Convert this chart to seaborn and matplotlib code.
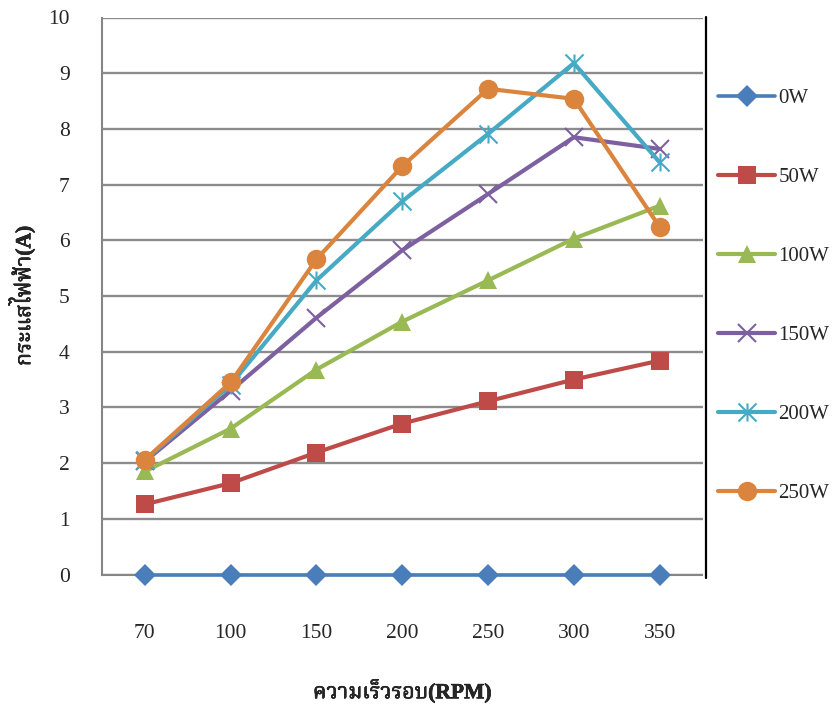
import matplotlib
matplotlib.use("Agg")
import matplotlib.pyplot as plt
from matplotlib import font_manager
from matplotlib import patheffects
from matplotlib.path import Path
from matplotlib.lines import Line2D
import numpy as np
import pandas as pd
import seaborn as sns

# ---- data -------------------------------------------------------------
speeds = ["70", "100", "150", "200", "250", "300", "350"]
series_names = ["0W", "50W", "100W", "150W", "200W", "250W"]
current_0w = [0, 0, 0, 0, 0, 0, 0]
current_50w = [1.26, 1.64, 2.19, 2.71, 3.11, 3.50, 3.84]
current_100w = [1.85, 2.62, 3.68, 4.54, 5.28, 6.03, 6.62]
current_150w = [2.03, 3.30, 4.61, 5.82, 6.83, 7.85, 7.64]
current_200w = [2.05, 3.41, 5.28, 6.70, 7.91, 9.18, 7.40]
current_250w = [2.06, 3.45, 5.66, 7.33, 8.72, 8.54, 6.24]
y_ticks = list(range(0, 11))

x_title = "ความเร็วรอบ(RPM)"
y_title = "กระแสไฟฟ้า(A)"

# ---- fonts ------------------------------------------------------------
sns.set_style("white")
serif = "Liberation Serif"


def find_thai_font():
    """Return the name of an installed font that covers Thai script."""
    try:
        from fontTools.ttLib import TTFont
    except Exception:
        return None
    found = {}
    for fe in font_manager.fontManager.ttflist:
        try:
            tt = TTFont(fe.fname, fontNumber=0, lazy=True)
            cmap = tt.getBestCmap() or {}
            if 0x0E01 in cmap and 0x0E44 in cmap:
                found.setdefault(fe.name, set()).add(fe.weight)
        except Exception:
            continue
    if not found:
        return None
    for name in ["Tahoma", "Leelawadee", "Noto Serif Thai", "Noto Sans Thai",
                 "Garuda", "Loma", "Norasi", "Kinnari", "Waree"]:
        if name in found:
            return name
    # prefer a family that ships a bold face
    for name, weights in found.items():
        if any((w if isinstance(w, int) else 400) >= 600 for w in weights):
            return name
    return next(iter(found))


thai_font = find_thai_font()
# Latin glyphs from the serif face, Thai glyphs from the Thai-capable face
title_families = [serif] + ([thai_font] if thai_font else []) + ["DejaVu Sans"]
plt.rcParams["font.family"] = [serif, "DejaVu Sans"]
bold_stroke = [patheffects.withStroke(linewidth=0.45, foreground="black")]

# asterisk marker: an X with a vertical stroke through it
ast_verts = [(0, -0.5), (0, 0.5),
             (-0.5, -0.5), (0.5, 0.5),
             (-0.5, 0.5), (0.5, -0.5)]
ast_codes = [Path.MOVETO, Path.LINETO] * 3
asterisk = Path(ast_verts, ast_codes)

styles = {
    "0W": dict(color="#4A7EBB", marker="D", ms=11.5, lw=2.6),
    "50W": dict(color="#BE4B48", marker="s", ms=13, lw=3),
    "100W": dict(color="#98B954", marker="^", ms=13.5, lw=3),
    "150W": dict(color="#7D60A0", marker="x", ms=13, lw=3, mew=1.5),
    "200W": dict(color="#46AAC5", marker=asterisk, ms=13, lw=3, mew=1.5),
    "250W": dict(color="#DB843D", marker="o", ms=14, lw=3),
}

values = [current_0w, current_50w, current_100w, current_150w,
          current_200w, current_250w]
frames = []
for name, vals in zip(series_names, values):
    frames.append(pd.DataFrame({"pos": np.arange(len(speeds)),
                                "speed": speeds,
                                "current": vals,
                                "series": name}))
df = pd.concat(frames, ignore_index=True)

FS = 15.5

# ---- figure -----------------------------------------------------------
fig = plt.figure(figsize=(8.32, 7.07), dpi=100)
ax = fig.add_axes([102 / 832, 1 - 574.5 / 707, 600.5 / 832, (574.5 - 17.5) / 707])

for name in series_names:
    st = styles[name]
    sub = df[df["series"] == name]
    mew = st.get("mew", 0)
    sns.lineplot(data=sub, x="pos", y="current", ax=ax, color=st["color"],
                 marker=st["marker"], markersize=st["ms"], linewidth=st["lw"],
                 markeredgecolor=st["color"], markerfacecolor=st["color"],
                 markeredgewidth=mew, label=name, zorder=3, clip_on=False,
                 solid_joinstyle="round", solid_capstyle="round")

ax.set_xlim(-0.5, len(speeds) - 0.5)
ax.set_ylim(0, 10)
ax.set_yticks(y_ticks)
ax.set_yticklabels([str(t) for t in y_ticks], fontsize=FS)
ax.set_xticks(np.arange(len(speeds)))
ax.set_xticklabels(speeds, fontsize=FS)
ax.tick_params(axis="x", length=0, pad=36)
ax.tick_params(axis="y", direction="out", length=7.2, width=1.3,
               color="#868686", pad=16)
ax.set_xticks([len(speeds) - 0.5], minor=True)
ax.tick_params(axis="x", which="minor", direction="inout", length=8,
               width=1.3, color="#868686")

ax.grid(axis="y", color="#8C8C8C", linewidth=1.7, zorder=0)
ax.grid(axis="x", visible=False)
for side in ["top", "right"]:
    ax.spines[side].set_visible(False)
ax.spines["left"].set_color("#868686")
ax.spines["left"].set_linewidth(1.5)
ax.spines["bottom"].set_color("#868686")
ax.spines["bottom"].set_linewidth(1.5)

ax.set_xlabel("")
ax.set_ylabel("")
fig.text(402 / 832, 1 - 692 / 707, x_title, ha="center", va="center",
         fontsize=FS, fontweight="bold", family=title_families,
         path_effects=bold_stroke)
fig.text(22 / 832, 1 - 296 / 707, y_title, ha="center", va="center",
         rotation=90, fontsize=FS, fontweight="bold", family=title_families,
         path_effects=bold_stroke)

# legend on the right
handles, labels = ax.get_legend_handles_labels()
if ax.legend_:
    ax.legend_.remove()
leg = fig.legend(handles, labels, loc="center left",
                 bbox_to_anchor=(718 / 832, 1 - 296 / 707),
                 frameon=False, fontsize=15, labelspacing=2.85,
                 handlelength=2.75, handletextpad=0.15,
                 borderpad=0, borderaxespad=0)

# dark rule separating plot and legend
fig.add_artist(Line2D([706 / 832, 706 / 832], [1 - 17 / 707, 1 - 578 / 707],
                      color="black", linewidth=1.6, transform=fig.transFigure))

fig.savefig("out.png", dpi=100)
